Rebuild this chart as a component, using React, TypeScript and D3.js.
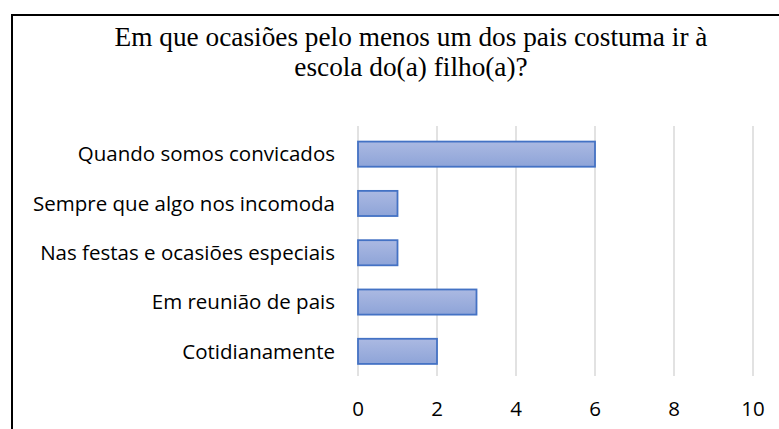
import React from "react";
import * as d3 from "d3";

const categories = [
  "Quando somos convicados",
  "Sempre que algo nos incomoda",
  "Nas festas e ocasiões especiais",
  "Em reunião de pais",
  "Cotidianamente",
];
const values = [6, 1, 1, 3, 2];
const xTicks = [0, 2, 4, 6, 8, 10];
const titleLines = [
  "Em que ocasiões pelo menos um dos pais costuma ir à",
  "escola do(a) filho(a)?",
];

export default function App() {
  const W = 779;
  const H = 429;
  const x = d3.scaleLinear().domain([0, 10]).range([358, 753]);
  const y = d3.scaleBand<string>().domain(categories).range([129.5, 376]).paddingInner(0.49).paddingOuter(0.245);
  const labelFont = "'Open Sans', 'Liberation Sans', sans-serif";
  return (
    <svg width={W} height={H} style={{ position: "fixed", left: 0, top: 0, background: "#fff" }}>
      <defs>
        <linearGradient id="barGrad" x1="0" y1="0" x2="0" y2="1">
          <stop offset="0%" stopColor="#abb9e2" />
          <stop offset="100%" stopColor="#8ea4d8" />
        </linearGradient>
      </defs>
      <rect x={0} y={0} width={W} height={H} fill="#fff" />
      <path d={`M12,${H + 5} L12,15 L${W + 5},15`} fill="none" stroke="#000" strokeWidth={2} />
      {titleLines.map((t, i) => (
        <text
          key={i}
          x={411}
          y={46 + i * 29.5}
          textAnchor="middle"
          fontFamily="'Liberation Serif', 'Times New Roman', serif"
          fontSize={27.3}
          fill="#000"
        >
          {t}
        </text>
      ))}
      {xTicks.map((t) => (
        <line key={t} x1={x(t)} x2={x(t)} y1={126} y2={376} stroke="#d9d9d9" strokeWidth={1.5} />
      ))}
      {categories.map((c, i) => (
        <rect
          key={c}
          x={x(0)}
          y={y(c)!}
          width={x(values[i]) - x(0)}
          height={y.bandwidth()}
          fill="url(#barGrad)"
          stroke="#4472c4"
          strokeWidth={1.8}
        />
      ))}
      {categories.map((c) => (
        <text
          key={c}
          x={335}
          y={y(c)! + y.bandwidth() / 2}
          dy="0.35em"
          textAnchor="end"
          fontFamily={labelFont}
          fontSize={20.5}
          fill="#000"
        >
          {c}
        </text>
      ))}
      {xTicks.map((t) => (
        <text
          key={t}
          x={x(t)}
          y={409}
          dy="0.35em"
          textAnchor="middle"
          fontFamily={labelFont}
          fontSize={20.5}
          fill="#000"
        >
          {t}
        </text>
      ))}
    </svg>
  );
}
